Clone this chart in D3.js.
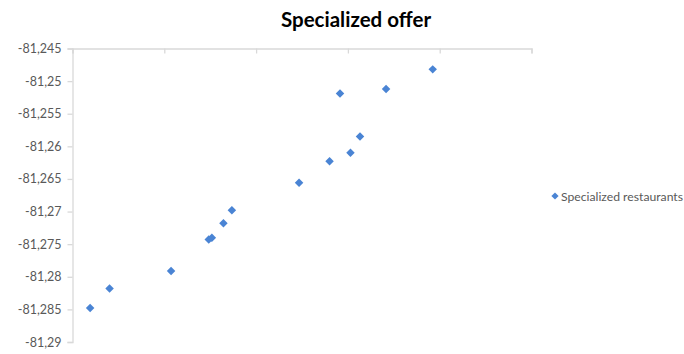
<!DOCTYPE html>
<html>
<head>
<meta charset="utf-8">
<script src="https://cdn.jsdelivr.net/npm/d3@7"></script>
<style>
  html, body { margin: 0; padding: 0; background: #fff; }
  svg { display: block; }
</style>
</head>
<body>
<svg id="chart" width="684" height="354"></svg>
<script>
// Restaurant locations: latitude (x) vs longitude (y)
const latitudes = [28.3596, 28.3702, 28.4037, 28.4242, 28.4259, 28.4322, 28.4368,
                   28.4734, 28.4900, 28.4957, 28.5014, 28.5066, 28.5208, 28.5462];
const longitudes = [-81.2848, -81.2818, -81.2791, -81.2743, -81.2740, -81.2718, -81.2698,
                    -81.2656, -81.2623, -81.2519, -81.2610, -81.2585, -81.2512, -81.2482];
const yTicks = [-81.29, -81.285, -81.28, -81.275, -81.27, -81.265, -81.26, -81.255, -81.25, -81.245];
const xTicks = [28.35, 28.40, 28.45, 28.50, 28.55, 28.60];
const title = "Specialized offer";
const seriesName = "Specialized restaurants";

const svg = d3.select("#chart");
const plot = { left: 72.5, right: 531.5, top: 48.5, bottom: 342 };
const axisColor = "#d9d9d9";
const textColor = "#595959";
const markColor = "#4a84d4";

const x = d3.scaleLinear().domain([28.35, 28.60]).range([plot.left, plot.right]);
const y = d3.scaleLinear().domain([-81.29, -81.245]).range([plot.bottom, plot.top]);

// Title
svg.append("text")
  .attr("x", 356).attr("y", 27)
  .attr("text-anchor", "middle")
  .attr("font-family", "Lato, 'Open Sans', sans-serif")
  .attr("font-weight", "bold")
  .attr("font-size", 20.5)
  .attr("fill", "#000")
  .text(title);

// Vertical axis with comma-decimal labels and a plain hyphen for the sign
const fmt = v => String(+v.toFixed(3)).replace(".", ",");
const yAxis = svg.append("g")
  .attr("transform", `translate(${plot.left},0)`)
  .call(d3.axisLeft(y).tickValues(yTicks).tickSize(5).tickPadding(6).tickFormat(fmt));
yAxis.select(".domain").attr("stroke", axisColor).attr("stroke-width", 1.3);
yAxis.selectAll(".tick line").attr("stroke", axisColor).attr("stroke-width", 1.3);
yAxis.selectAll(".tick text")
  .attr("fill", textColor)
  .attr("font-family", "Lato, 'Open Sans', sans-serif")
  .attr("font-size", 12.5);

// Horizontal axis crosses at the top, ticks pointing down, no labels
const xAxis = svg.append("g")
  .attr("transform", `translate(0,${plot.top})`)
  .call(d3.axisBottom(x).tickValues(xTicks).tickSize(5).tickSizeOuter(5).tickFormat(""));
xAxis.select(".domain").attr("stroke", axisColor).attr("stroke-width", 1.3);
xAxis.selectAll(".tick line").attr("stroke", axisColor).attr("stroke-width", 1.3);

// Diamond markers
const diamond = d3.symbol().type(d3.symbolSquare).size(36);
const points = latitudes.map((lat, i) => ({ lat, lon: longitudes[i] }));
svg.append("g").selectAll("path")
  .data(points)
  .join("path")
  .attr("d", diamond)
  .attr("transform", d => `translate(${x(d.lat)},${y(d.lon)}) rotate(45)`)
  .attr("fill", markColor);

// Legend
const legend = svg.append("g").attr("transform", "translate(555,196)");
legend.append("path")
  .attr("d", d3.symbol().type(d3.symbolSquare).size(26)())
  .attr("transform", "rotate(45)")
  .attr("fill", markColor);
legend.append("text")
  .attr("x", 6).attr("y", 4.5)
  .attr("font-family", "Lato, 'Open Sans', sans-serif")
  .attr("font-size", 12.2)
  .attr("fill", textColor)
  .text(seriesName);
</script>
</body>
</html>
